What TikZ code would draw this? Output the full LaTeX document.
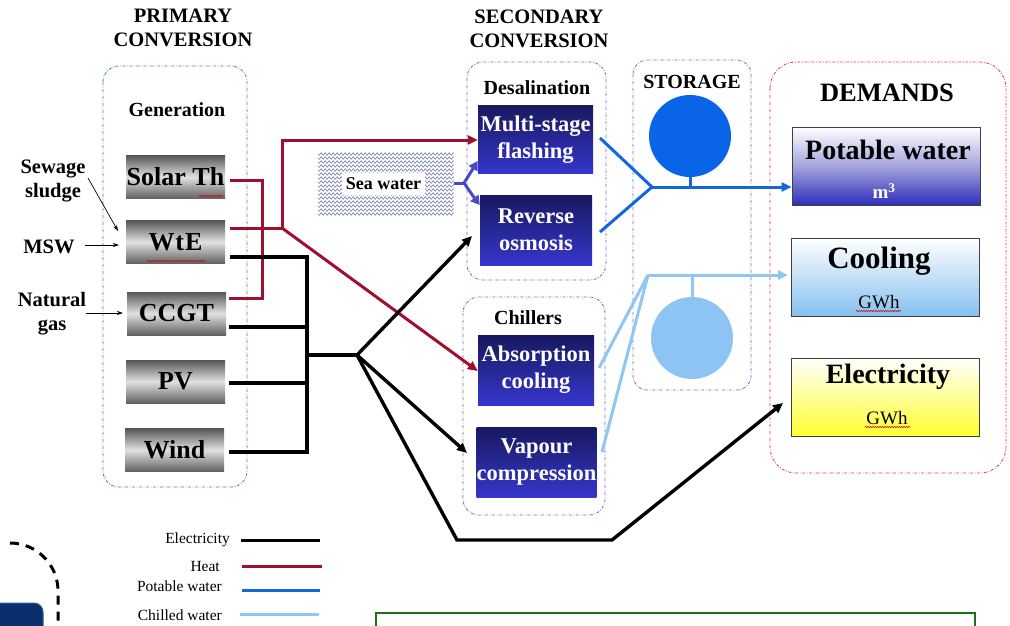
\documentclass[tikz,border=0pt]{standalone}
\usepackage{fontspec}
\setmainfont{Liberation Serif}
\usetikzlibrary{arrows.meta,decorations.pathmorphing,calc}

\definecolor{heatc}{HTML}{A0102E}
\definecolor{potc}{HTML}{1466DE}
\definecolor{chillc}{HTML}{90C6F4}
\definecolor{seac}{HTML}{4848C8}
\definecolor{wavec}{HTML}{5A64A0}
\definecolor{grpgreen}{HTML}{3C9A3C}
\definecolor{grpblue}{HTML}{6A70B0}
\definecolor{grpred}{HTML}{D84050}
\definecolor{tankdark}{HTML}{0A64E8}
\definecolor{tanklight}{HTML}{8EC4F4}
\definecolor{navy}{HTML}{0B2F6E}
\definecolor{navyedge}{HTML}{3A5A9A}
\definecolor{boxgreen}{HTML}{1E6E1E}
\definecolor{techtop}{HTML}{181860}
\definecolor{techbot}{HTML}{3636CC}
\definecolor{potbot}{HTML}{2E2EB8}
\definecolor{potmid}{HTML}{A4A4DE}
\definecolor{coolbot}{HTML}{86C0F0}
\definecolor{elbot}{HTML}{FFFF30}

\newcommand\fsz[2]{\fontsize{#1}{#2}\selectfont}

\tikzset{
  grp/.style={line width=0.8pt, dash pattern=on 3pt off 1.6pt on 0.8pt off 1.6pt},
  genbox/.style={minimum width=99pt, minimum height=43pt, inner sep=0pt,
    top color=black!66, bottom color=black!62, middle color=black!12,
    font=\fsz{26}{28}\bfseries},
  techbox/.style={minimum width=115pt, minimum height=68pt, inner sep=0pt,
    top color=techtop, bottom color=techbot, text=white, align=center,
    font=\fsz{22.5}{27}\bfseries},
  dembox/.style={minimum width=188pt, minimum height=78pt, inner sep=0pt,
    draw=black!75, line width=0.8pt, top color=white},
  head/.style={font=\fsz{20.5}{24}\bfseries, align=center, inner sep=0pt},
  sub/.style={font=\fsz{20}{22}\bfseries, inner sep=0pt},
  side/.style={font=\fsz{20.5}{24}\bfseries, align=center, inner sep=0pt},
  legtxt/.style={font=\fsz{15.5}{17}, anchor=east, inner sep=0pt},
  thin arrow/.style={line width=0.7pt, -{Stealth[length=6pt,width=4pt]}},
  elec/.style={line width=3.4pt, black},
  heat/.style={line width=3pt, heatc},
  pot/.style={line width=3pt, potc},
  chill/.style={line width=3pt, chillc},
  tip/.style={-{Triangle[length=10pt,width=9pt]}},
  seafeed/.style={seac, line width=3pt, -{Triangle[length=9pt,width=10pt]}},
  spell/.style={red!80!black, line width=0.5pt, decorate,
    decoration={snake, segment length=2.4pt, amplitude=0.7pt}},
}

\begin{document}
\begin{tikzpicture}[x=1pt,y=-1pt]
\useasboundingbox (0,0) rectangle (1010,625);

% ---------- column headings ----------
\node[head] (h1) at (183,28) {PRIMARY\\CONVERSION};
\node[head] (h2) at (539,29) {SECONDARY\\CONVERSION};

% ---------- groups ----------
\draw[grp, grpgreen, rounded corners=16pt] (103,66) rectangle (247,487);
\draw[grp, grpblue, rounded corners=16pt] (467,62) rectangle (606,280);
\draw[grp, grpblue, rounded corners=16pt] (463,297) rectangle (605,515);
\draw[grp, grpblue, rounded corners=14pt] (633,60) rectangle (751,390);
\draw[grp, grpred, rounded corners=26pt] (770,62) rectangle (1006,473);

\node[sub] (gen) at (177,110) {Generation};
\node[sub] (desal) at (537,88) {Desalination};
\node[sub] (chil) at (528,318) {Chillers};
\node[sub] (stor) at (692,82) {STORAGE};
\node[sub, font=\fsz{26.5}{28}\bfseries] (dem) at (887,93) {DEMANDS};

% ---------- generation units ----------
\node[genbox] (solar) at (175.5,177) {Solar Th};
\node[genbox] (wte)   at (175.5,242) {W\kern1pt t\kern1pt E};
\node[genbox] (ccgt)  at (176.5,313.5) {CCGT};
\node[genbox] (pv)    at (175.5,381.5) {PV};
\node[genbox] (wind)  at (174.5,450) {Wind};
\draw[spell] (199,196) -- (223,196);
\draw[spell] (147,261) -- (206,261);

% ---------- inputs ----------
\node[side] (sew) at (53,181) {Sewage\\sludge};
\node[side] (msw) at (49,247) {MSW};
\node[side] (ng)  at (52,314) {Natural\\gas};
\coordinate (sewa) at (88,178);
\coordinate (mswa) at (85,245);
\coordinate (nga) at (86,313);
\draw[thin arrow] (sewa) -- (118,231);
\draw[thin arrow] (mswa) -- (119,245);
\draw[thin arrow] (nga) -- (123,313);

% ---------- sea water ----------
\node[minimum width=135pt, minimum height=63pt, inner sep=0pt] (sea) at (386,183.5) {};
\begin{scope}
  \clip (sea.south west) rectangle (sea.north east);
  \foreach \yy in {154,158,...,214}
    \draw[wavec, line width=0.5pt, decorate,
      decoration={snake, segment length=4pt, amplitude=1.3pt}] (316,\yy) -- (456,\yy);
\end{scope}
\node[fill=white, font=\fsz{18}{20}\bfseries, minimum width=83pt, minimum height=22pt, inner sep=0pt] (seatxt) at (383.5,184) {Sea water};

% ---------- secondary conversion ----------
\node[techbox] (msf) at (535.5,139.5) {Multi-stage\\flashing};
\node[techbox, minimum width=112pt, minimum height=70pt] (ro) at (536,230) {Reverse\\osmosis};
\node[techbox, minimum width=116pt, minimum height=70pt] (abs) at (536,370) {Absorption\\cooling};
\node[techbox, minimum width=117pt, minimum height=70pt] (vap) at (536.5,462) {Vapour\\compression};

% ---------- storage ----------
\node[circle, fill=tankdark, minimum size=82pt, inner sep=0pt] (tank1) at (690,136) {};
\node[circle, fill=tanklight, minimum size=82pt, inner sep=0pt] (tank2) at (692,338) {};

% ---------- demands ----------
\node[dembox, bottom color=potbot, middle color=potmid] (pw) at (886,166) {};
\node[font=\fsz{28}{30}\bfseries, inner sep=0pt] (pwt) at (888,150) {Potable water};
\node[font=\fsz{19}{20}\bfseries, text=white, inner sep=0pt] (pwu) at (884,191) {m\textsuperscript{3}};

\node[dembox, bottom color=coolbot] (cool) at (885,277.5) {};
\node[font=\fsz{31}{32}\bfseries, inner sep=0pt] (coolt) at (879,261) {Cooling};
\node[font=\fsz{19}{20}, inner sep=0pt] (coolu) at (879,302) {GWh};
\draw[spell] (856,311) -- (901,311);

\node[dembox, bottom color=elbot] (el) at (885,397) {};
\node[font=\fsz{28}{30}\bfseries, inner sep=0pt] (elt) at (888,377) {Electricity};
\node[font=\fsz{19}{20}, inner sep=0pt] (elu) at (887,418) {GWh};
\draw[spell] (865,427) -- (910,427);

% ---------- heat network ----------
\coordinate (hj) at (282,228);
\draw[heat, line join=miter] (230,180) -- (262,180) -- (262,298) -- (229,298);
\draw[heat] (230,228) -- (hj);
\draw[heat, tip] (hj) -- (282,140) -- (msf.west |- 0,140);
\draw[heat, tip] (hj) -- (abs.west |- 0,371);

% ---------- electricity network ----------
\coordinate (bus) at (307,355);
\coordinate (ej) at (357,355);
\coordinate (eb1) at (457,540);
\coordinate (eb2) at (612,540);
\draw[elec] (230,257) -- (307,257) -- (307,452) -- (229,452);
\draw[elec] (229,327) -- (307,327);
\draw[elec] (229,383) -- (307,383);
\draw[elec] (bus) -- (ej);
\draw[elec, tip] (ej) -- (472,236);
\draw[elec, tip] (ej) -- (467,453);
\draw[elec, tip, line join=miter] (ej) -- (eb1) -- (eb2) -- (783,403);

% ---------- sea water feed ----------
\coordinate (sj) at (464,183);
\draw[seac, line width=3pt] (sea.east |- 0,183) -- (sj);
\draw[seafeed] (sj) .. controls (469,175) .. (msf.south west |- 0,161);
\draw[seafeed] (sj) .. controls (469,191) .. (ro.north west |- 0,205);

% ---------- potable water network ----------
\coordinate (pj) at (652,187);
\draw[pot] (600,138) -- (pj);
\draw[pot] (600,232) -- (pj);
\draw[pot, tip] (pj) -- (pw.west |- 0,187);
\draw[pot] (tank1.south) -- (tank1.south |- pj);

% ---------- chilled water network ----------
\coordinate (cj) at (648,275);
\draw[chill] (599,368) -- (cj);
\draw[chill] (602,452) -- (cj);
\draw[chill, tip] (cj) -- (788,275);
\draw[chill] (tank2.north |- cj) -- (tank2.north);

% ---------- legend ----------
\node[legtxt] (l1) at (230,540) {Electricity};
\node[legtxt] (l2) at (220,566) {Heat};
\node[legtxt] (l3) at (222,586) {Potable water};
\node[legtxt] (l4) at (222,615) {Chilled water};
\draw[elec, line width=3pt] (241,540) -- (320,540);
\draw[heat] (242,566) -- (322,566);
\draw[pot] (242,590) -- (320,590);
\draw[chill] (240,614) -- (319,614);

% ---------- bottom fragments ----------
\draw[line width=3pt, dash pattern=on 9pt off 7pt] (10,543) arc[start angle=270, end angle=360, radius=48] -- (58,630);
\draw[fill=navy, draw=navyedge, line width=1pt, rounded corners=9pt] (-10,603) rectangle (43,645);
\draw[draw=boxgreen, line width=1.6pt] (376,613) rectangle (975,640);
\end{tikzpicture}
\end{document}
